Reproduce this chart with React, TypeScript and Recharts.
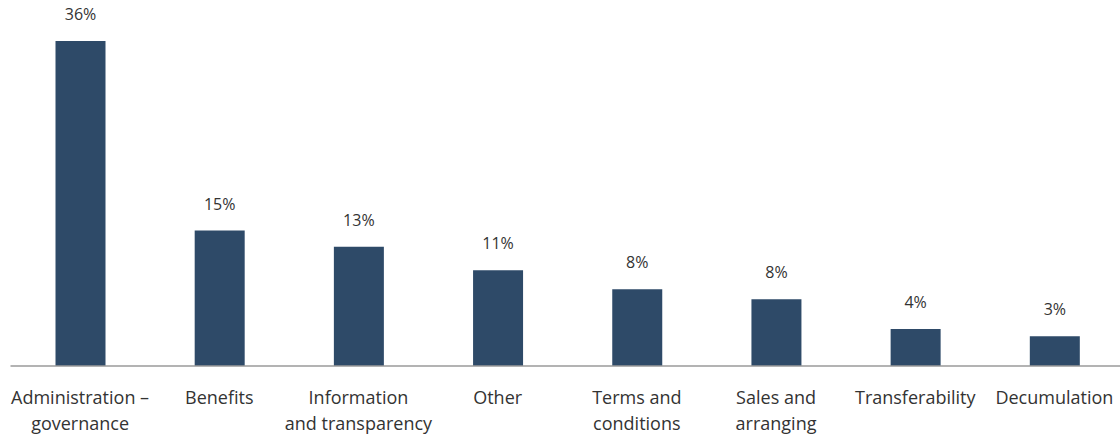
import React from "react";
import { BarChart, Bar, XAxis, YAxis, LabelList } from "recharts";

const categories = [
  "Administration – governance",
  "Benefits",
  "Information and transparency",
  "Other",
  "Terms and conditions",
  "Sales and arranging",
  "Transferability",
  "Decumulation",
];
const tickLines = [
  ["Administration –", "governance"],
  ["Benefits"],
  ["Information", "and transparency"],
  ["Other"],
  ["Terms and", "conditions"],
  ["Sales and", "arranging"],
  ["Transferability"],
  ["Decumulation"],
];
const values = [36, 15, 13.2, 10.6, 8.5, 7.4, 4.1, 3.3];
const valueLabels = ["36%", "15%", "13%", "11%", "8%", "8%", "4%", "3%"];

const data = categories.map((c, i) => ({ name: c, value: values[i], label: valueLabels[i], idx: i }));

const FONT = "'Open Sans', sans-serif";

const Tick = (props: any) => {
  const { x, y, payload } = props;
  const lines = tickLines[payload.index] || [String(payload.value)];
  return (
    <text x={x} y={y} textAnchor="middle" fill="#333" fontSize={18} fontFamily={FONT}>
      {lines.map((l: string, i: number) => (
        <tspan key={i} x={x} y={y + 32 + i * 26}>
          {l}
        </tspan>
      ))}
    </text>
  );
};

export default function App() {
  return (
    <div style={{ position: "absolute", left: 0, top: 0, width: 1120, height: 439, overflow: "hidden", background: "#fff" }}>
      <BarChart
        width={1124}
        height={439}
        data={data}
        margin={{ top: 41, right: 0, bottom: 0, left: 10.5 }}
        barSize={50}
      >
        <XAxis
          dataKey="name"
          height={73}
          interval={0}
          tickLine={false}
          axisLine={{ stroke: "#9a9a9a", strokeWidth: 1.5 }}
          tick={<Tick />}
          tickMargin={0}
        />
        <YAxis hide domain={[0, 36]} />
        <Bar dataKey="value" fill="#2E4A68" isAnimationActive={false}>
          <LabelList
            dataKey="label"
            position="top"
            offset={21}
            fill="#333"
            fontSize={16}
            fontFamily={FONT}
          />
        </Bar>
      </BarChart>
    </div>
  );
}
